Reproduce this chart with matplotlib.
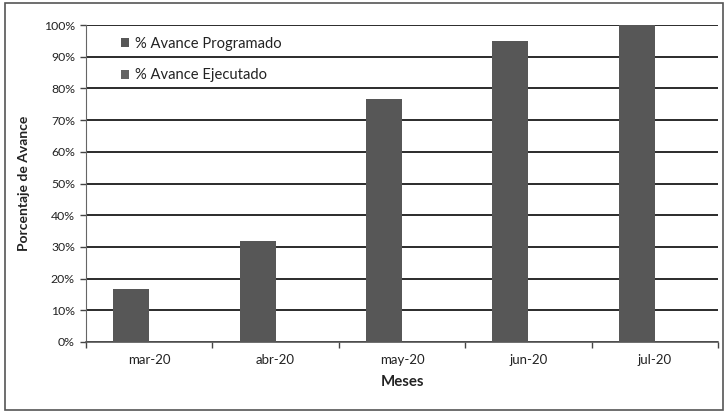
import numpy as np
import matplotlib.pyplot as plt
from matplotlib.patches import Rectangle
from matplotlib.ticker import PercentFormatter

plt.rcParams['font.family'] = ['Lato', 'DejaVu Sans']

# datos
meses = ["mar-20", "abr-20", "may-20", "jun-20", "jul-20"]
programado = [16.7, 32.0, 76.8, 94.8, 100.0]
ejecutado = [0, 0, 0, 0, 0]
series = ["% Avance Programado", "% Avance Ejecutado"]

fig = plt.figure(figsize=(7.28, 4.12), dpi=100)
ax = fig.add_axes([86/728, 1-342/412, (718-86)/728, (342-25)/412])

x = np.arange(len(meses))
w = 0.285
ax.bar(x - w/2, programado, w, color="#575757", linewidth=0, label=series[0], zorder=3)
ax.bar(x + w/2, ejecutado, w, color="#636363", linewidth=0, label=series[1], zorder=3)

ax.set_xlim(-0.5, len(meses) - 0.5)
ax.set_ylim(0, 100)
ax.set_yticks(np.arange(0, 101, 10))
ax.yaxis.set_major_formatter(PercentFormatter(decimals=0))
ax.grid(axis="y", color="#1a1a1a", linewidth=1.3, zorder=1)

ax.set_xticks(x)
ax.set_xticklabels(meses)
ax.set_xticks(np.arange(-0.5, len(meses)), minor=True)
ax.tick_params(axis="x", which="major", length=0, pad=9, labelsize=9.5, colors="#222222")
ax.tick_params(axis="x", which="minor", length=4, width=1, color="#444444")
ax.tick_params(axis="y", length=4, width=1, pad=4, labelsize=8.8, color="#444444", labelcolor="#222222")

for s in ["top", "right"]:
    ax.spines[s].set_visible(False)
ax.spines["left"].set_color("#666666")
ax.spines["bottom"].set_color("#555555")
ax.spines["bottom"].set_linewidth(1.2)

ax.set_xlabel("Meses", fontsize=10.8, fontweight="bold", labelpad=6, color="#222222")
ax.set_ylabel("Porcentaje de Avance", fontsize=10, fontweight="bold", labelpad=10, color="#222222")

leg = ax.legend(loc="upper left", bbox_to_anchor=(0.035, 1.005), frameon=False,
                fontsize=10.6, handlelength=0.55, handleheight=0.55, handletextpad=0.4,
                labelspacing=1.2)
for t in leg.get_texts():
    t.set_color("#222222")

# marco exterior
fig.patches.append(Rectangle((5/728, 2/412), 718/728, 407/412, transform=fig.transFigure,
                             fill=False, edgecolor="#555555", linewidth=1.2))

fig.savefig("out.png", dpi=100)
